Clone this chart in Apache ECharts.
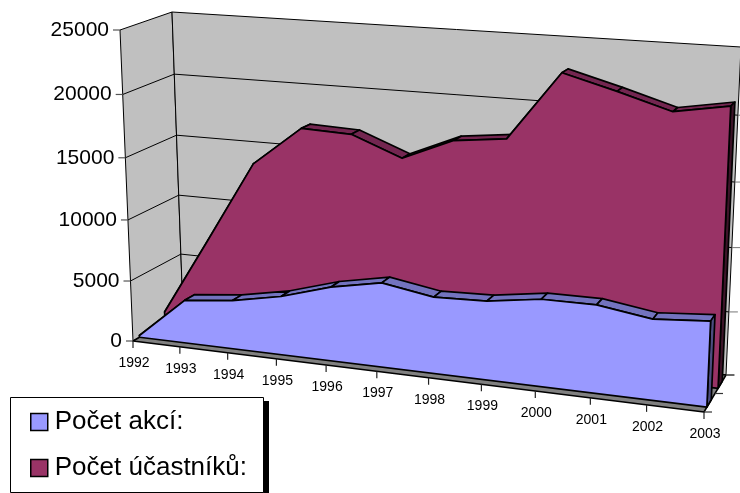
<!DOCTYPE html>
<html><head><meta charset="utf-8">
<style>html,body{margin:0;padding:0;background:#fff}#c{width:740px;height:493px}</style>
<script src="https://cdn.jsdelivr.net/npm/echarts@6/dist/echarts.min.js"></script>
</head><body><div id="c"></div>
<script>
const years=['1992','1993','1994','1995','1996','1997','1998','1999','2000','2001','2002','2003'];
const akci=[150,3550,3980,4760,5950,6730,6050,6180,6780,6800,6180,6500];
const ucastniku=[900,7400,14000,17150,17000,15450,17150,17600,22850,21750,20550,21250];
const yTicks=[0,5000,10000,15000,20000,25000];
const depthTicks=[0,0.5,1];

// Perspective cage: four corners of the front plane and of the back plane
const FRONT={a:[133,341],b:[704,412],c:[719,66],d:[120,30]};
const BACK={a:[183,312],b:[726,375],c:[741,47],d:[172,12]};
function homography(q){
  const [x0,y0]=q.a,[x1,y1]=q.b,[x2,y2]=q.c,[x3,y3]=q.d;
  const sx=x0-x1+x2-x3,sy=y0-y1+y2-y3,dx1=x1-x2,dx2=x3-x2,dy1=y1-y2,dy2=y3-y2;
  const den=dx1*dy2-dx2*dy1;
  const g=(sx*dy2-dx2*sy)/den,h=(dx1*sy-sx*dy1)/den;
  const a=x1-x0+g*x1,b=x3-x0+h*x3,d=y1-y0+g*y1,e=y3-y0+h*y3;
  return (u,v)=>{const w=g*u+h*v+1;return [(a*u+b*v+x0)/w,(d*u+e*v+y0)/w];};
}
const hF=homography(FRONT),hB=homography(BACK);
function projector(params,api){
  const r=params.coordSys;
  return (i,val,z)=>{
    const p=api.coord([i,val]);
    const u=(p[0]-r.x)/r.width,v=(r.y+r.height-p[1])/r.height;
    const f=hF(u,v),b=hB(u,v);
    return [f[0]+(b[0]-f[0])*z,f[1]+(b[1]-f[1])*z];
  };
}
const poly=(pts,fill,lw)=>({type:'polygon',shape:{points:pts},style:{fill:fill,stroke:'#000',lineWidth:lw,lineJoin:'round'}});
const line=(a,b,color,lw)=>({type:'line',shape:{x1:a[0],y1:a[1],x2:b[0],y2:b[1]},style:{stroke:color,lineWidth:lw,fill:null}});
const last=years.length-1,vMax=yTicks[yTicks.length-1];

function renderFrame(params,api){
  if(params.dataIndex!==0)return null;
  const P=projector(params,api),ch=[];
  ch.push(poly([P(0,0,0),P(0,0,1),P(0,vMax,1),P(0,vMax,0)],'#C0C0C0',1));
  ch.push(poly([P(0,0,1),P(last,0,1),P(last,vMax,1),P(0,vMax,1)],'#C0C0C0',1));
  ch.push(poly([P(0,0,0),P(last,0,0),P(last,0,1),P(0,0,1)],'#808080',1.5));
  yTicks.forEach(t=>{
    if(t>0&&t<vMax){
      ch.push(line(P(0,t,0),P(0,t,1),'#000',1));
      ch.push(line(P(0,t,1),P(last,t,1),'#000',1));
    }
    const a=P(0,t,0);
    ch.push(line([a[0]-7,a[1]],a,'#555',1.2));
    const b=P(last,t,1);
    ch.push(line(b,[b[0]+9,b[1]],'#777',1));
    ch.push({type:'text',style:{text:String(t),x:a[0]-11,y:a[1],align:'right',verticalAlign:'middle',
      font:'21px "Liberation Sans"',fill:'#000'}});
  });
  depthTicks.forEach(z=>{const a=P(last,0,z);ch.push(line(a,[a[0]+8,a[1]],'#333',1.2));});
  years.forEach((y,i)=>{
    const a=P(i,0,0);
    ch.push(line(a,[a[0],a[1]+7],'#222',1.2));
    ch.push({type:'text',style:{text:y,x:a[0]+1,y:a[1]+22,align:'center',verticalAlign:'middle',
      font:'14px "Liberation Sans"',fill:'#000'}});
  });
  return {type:'group',children:ch};
}

function areaRenderer(values,zF,zB,front,top,cap){
  return function(params,api){
    if(params.dataIndex!==0)return null;
    const P=projector(params,api),ch=[];
    for(let i=0;i<last;i++){
      ch.push(poly([P(i,values[i],zF),P(i+1,values[i+1],zF),P(i+1,values[i+1],zB),P(i,values[i],zB)],top,1.7));
    }
    ch.push(poly([P(last,0,zF),P(last,0,zB),P(last,values[last],zB),P(last,values[last],zF)],cap,1.7));
    const pts=[P(0,0,zF)];
    values.forEach((v,i)=>pts.push(P(i,v,zF)));
    pts.push(P(last,0,zF));
    ch.push(poly(pts,front,1.7));
    return {type:'group',children:ch};
  };
}
const chart=echarts.init(document.getElementById('c'));
const seq=years.map((y,i)=>i);
chart.setOption({
  animation:false,
  grid:{left:100,right:100,top:100,bottom:100},
  xAxis:{type:'category',data:years,boundaryGap:false,show:false},
  yAxis:{type:'value',min:0,max:vMax,interval:5000,show:false},
  graphic:[
    {type:'rect',z:10,shape:{x:263,y:401,width:6,height:92},style:{fill:'#000'}},
    {type:'rect',z:11,shape:{x:10.5,y:397.5,width:253,height:95},style:{fill:'#fff',stroke:'#000',lineWidth:1}}
  ],
  legend:{
    z:12,orient:'vertical',left:10,top:397,height:300,
    padding:[12,0,0,20],itemGap:20,itemWidth:17,itemHeight:17,
    textStyle:{fontFamily:'Liberation Sans',fontSize:26,color:'#000',padding:[0,0,0,2]},
    data:[
      {name:'Počet akcí:',icon:'rect',itemStyle:{color:'#9999FF',borderColor:'#000',borderWidth:1.5}},
      {name:'Počet účastníků:',icon:'rect',itemStyle:{color:'#993366',borderColor:'#000',borderWidth:1.5}}
    ]
  },
  series:[
    {type:'custom',name:'frame',z:1,silent:true,clip:false,renderItem:renderFrame,data:seq.map(i=>[i,0])},
    {type:'custom',name:'Počet účastníků:',z:2,clip:false,itemStyle:{color:'#993366'},
      renderItem:areaRenderer(ucastniku,0.64,0.83,'#993366','#732650','#3D1429'),data:ucastniku.map((v,i)=>[i,v])},
    {type:'custom',name:'Počet akcí:',z:3,clip:false,itemStyle:{color:'#9999FF'},
      renderItem:areaRenderer(akci,0.13,0.33,'#9999FF','#7373BF','#4D4D80'),data:akci.map((v,i)=>[i,v])}
  ]
});
</script></body></html>
